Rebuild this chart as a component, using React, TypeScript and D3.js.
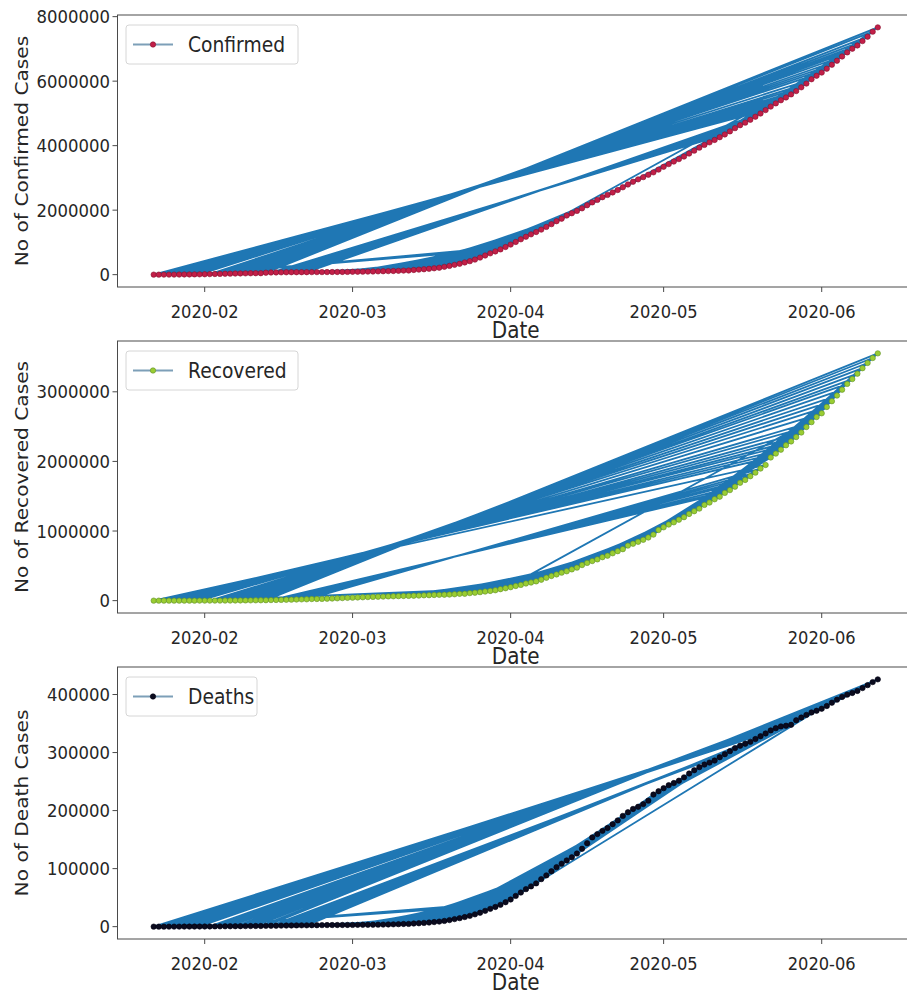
import React from "react";
import * as d3 from "d3";

// Daily global totals, 22 Jan 2020 – 12 Jun 2020 (one value per day).
const FIRST_DAY = "2020-01-22";

const confirmed: number[] = [
  555, 654, 941, 1434, 2118, 2927, 5578, 6166, 8234, 9927,
  12038, 16787, 19887, 23898, 27643, 30802, 34395, 37129, 40160, 42769,
  44811, 45229, 60381, 66909, 69052, 71235, 73270, 75152, 75652, 76212,
  76841, 78602, 78982, 79546, 80399, 81376, 82736, 84120, 86013,
  88371, 90309, 92844, 95124, 97886, 101800, 105836, 109835, 113582, 118582,
  125865, 128343, 145193, 156097, 167449, 181531, 197146, 214910, 242708, 272166,
  304524, 336953, 378235, 418045, 467653, 529591, 593291, 660706, 720117, 782365, 857487,
  932605, 1013466, 1095917, 1176060, 1249754, 1321481, 1396476, 1480202, 1565278, 1657526,
  1735650, 1834721, 1904838, 1976191, 2056054, 2152437, 2240190, 2317758, 2401378, 2472258,
  2549123, 2624074, 2708885, 2795729, 2881140, 2955033, 3023722, 3097229, 3172287, 3256846,
  3343777, 3427584, 3506729, 3583055, 3662691, 3755341, 3845718, 3938064, 4024009, 4101699,
  4177502, 4261747, 4347015, 4442163, 4542347, 4634068, 4713620, 4801943, 4897492, 4996472,
  5102424, 5210817, 5310362, 5407613, 5495061, 5589626, 5691790, 5808946, 5924275, 6059017, 6166946,
  6265852, 6386832, 6508635, 6632985, 6764918, 6891215, 7005760, 7106822, 7242235, 7379115,
  7534376, 7667950,
];

const recovered: number[] = [
  28, 30, 36, 39, 52, 61, 107, 126, 143, 222,
  284, 472, 623, 852, 1124, 1487, 2011, 2616, 3244, 3946,
  4683, 5150, 6295, 8058, 9395, 10865, 12583, 14352, 16121, 18177,
  18890, 22886, 23394, 25227, 27905, 30384, 33277, 36711, 39782,
  42716, 45602, 48228, 51170, 53796, 55865, 58358, 60694, 62494, 64404,
  67003, 68324, 70251, 72624, 76034, 78088, 80840, 83207, 84854, 87256,
  91499, 97704, 98334, 107990, 113787, 122150, 130915, 139415, 149082, 164566, 178034,
  193177, 210263, 225796, 246152, 260012, 276515, 300054, 328661, 353975, 376096,
  402110, 421722, 448655, 474261, 511019, 542107, 568343, 592319, 623903, 645738,
  680286, 710263, 739273, 790832, 817669, 845056, 873567, 906988, 948425, 1014753,
  1053327, 1093112, 1125236, 1162724, 1198832, 1245413, 1284741, 1322050, 1375624, 1408980,
  1456209, 1493414, 1547963, 1587893, 1637067, 1693197, 1733963, 1786875, 1838995, 1897466,
  1948739, 2056643, 2112185, 2168563, 2231738, 2286956, 2349993, 2415219, 2493908, 2564087, 2637208,
  2691469, 2782169, 2865445, 2946577, 3030215, 3113779, 3183044, 3260449, 3339051, 3414389,
  3485220, 3552316,
];

const deaths: number[] = [
  17, 18, 26, 42, 56, 82, 131, 133, 171, 213,
  259, 362, 426, 492, 564, 634, 719, 806, 906, 1013,
  1113, 1118, 1371, 1523, 1666, 1770, 1868, 2007, 2122, 2247,
  2251, 2458, 2469, 2629, 2708, 2770, 2814, 2872, 2941,
  2996, 3085, 3160, 3254, 3348, 3460, 3558, 3803, 3996, 4262,
  4615, 4720, 5404, 5819, 6440, 7126, 7905, 8733, 9867, 11299,
  12973, 14623, 16497, 18615, 21181, 23970, 27198, 30652, 33925, 37582, 42107,
  46809, 52983, 58787, 64606, 69374, 74565, 81865, 88338, 95455, 102525,
  108503, 114091, 119481, 125983, 134176, 143800, 153821, 159509, 165044, 169986,
  176583, 183066, 190858, 197159, 202846, 206544, 211167, 217153, 227638, 233388,
  238650, 243808, 247470, 251537, 257239, 263855, 269567, 274898, 279311, 282709,
  286330, 291942, 297197, 302418, 307666, 311781, 315185, 318481, 323285, 328115,
  332924, 338160, 342097, 345059, 346232, 347836, 355629, 360308, 364867, 369126, 372035,
  375543, 380249, 385947, 391136, 395779, 399798, 402697, 406193, 411143, 416201,
  421458, 426136,
];

const yTicksConfirmed = [0, 2000000, 4000000, 6000000, 8000000];
const yTicksRecovered = [0, 1000000, 2000000, 3000000];
const yTicksDeaths = [0, 100000, 200000, 300000, 400000];

const xTickMonths = ["2020-02-01", "2020-03-01", "2020-04-01", "2020-05-01", "2020-06-01"];

const LINE_COLOR = "#1f77b4";
const SPINE = "#4a4a4a";
const FONT = "'DejaVu Sans', sans-serif";

// Rows carry their date as a "DD-MM-YYYY" key; the table is ordered by that
// string, so the connecting line runs through the rows in that order.
const parseISO = d3.timeParse("%Y-%m-%d");
const keyFormat = d3.timeFormat("%d-%m-%Y");
const xTickFormat = d3.timeFormat("%Y-%m");

type Row = { date: Date; key: string; value: number };

function buildRows(values: number[]): Row[] {
  const start = parseISO(FIRST_DAY) as Date;
  const rows = values.map((value, i) => {
    const date = d3.timeDay.offset(start, i);
    return { date, key: keyFormat(date), value };
  });
  return rows.slice().sort((a, b) => (a.key < b.key ? -1 : a.key > b.key ? 1 : 0));
}

type PanelSpec = {
  top: number;
  bottom: number;
  values: number[];
  yTicks: number[];
  name: string;
  yLabel: string;
  markerFill: string;
  markerStroke: string;
  legendWidth: number;
};

const AX_LEFT = 117.5;
const AX_RIGHT = 914;

const panels: PanelSpec[] = [
  {
    top: 15, bottom: 287, values: confirmed, yTicks: yTicksConfirmed,
    name: "Confirmed", yLabel: "No of Confirmed Cases",
    markerFill: "#c21f48", markerStroke: "#86102e", legendWidth: 172,
  },
  {
    top: 341, bottom: 613, values: recovered, yTicks: yTicksRecovered,
    name: "Recovered", yLabel: "No of Recovered Cases",
    markerFill: "#9acd32", markerStroke: "#5f8f2a", legendWidth: 172,
  },
  {
    top: 667, bottom: 939, values: deaths, yTicks: yTicksDeaths,
    name: "Deaths", yLabel: "No of Death Cases",
    markerFill: "#0b0b1e", markerStroke: "#000010", legendWidth: 131,
  },
];

function StretchText(props: {
  x: number; y: number; sx?: number; sy?: number; rotate?: number;
  anchor?: string; size: number; dy?: string; children: React.ReactNode;
}) {
  const { x, y, sx = 1, sy = 1, rotate = 0, anchor = "start", size, dy, children } = props;
  return (
    <g transform={`translate(${x},${y}) rotate(${rotate}) scale(${sx},${sy})`}>
      <text x={0} y={0} dy={dy} textAnchor={anchor} fontFamily={FONT} fontSize={size} fill="#262626">
        {children}
      </text>
    </g>
  );
}

function Panel({ spec }: { spec: PanelSpec }) {
  const rows = buildRows(spec.values);
  const dates = rows.map((r) => r.date);
  const [d0, d1] = d3.extent(dates) as [Date, Date];
  const spanX = +d1 - +d0;
  const x = d3
    .scaleTime()
    .domain([new Date(+d0 - 0.05 * spanX), new Date(+d1 + 0.05 * spanX)])
    .range([AX_LEFT, AX_RIGHT]);

  const [v0, v1] = d3.extent(spec.values) as [number, number];
  const spanY = v1 - v0;
  const y = d3
    .scaleLinear()
    .domain([v0 - 0.05 * spanY, v1 + 0.05 * spanY])
    .range([spec.bottom, spec.top]);

  const line = d3
    .line<Row>()
    .x((d) => x(d.date))
    .y((d) => y(d.value));

  const clipId = `clip-${spec.name}`;
  const legendTop = spec.top + 10;
  const legendMid = legendTop + 19.5;
  const cy = (spec.top + spec.bottom) / 2;

  return (
    <g>
      <defs>
        <clipPath id={clipId}>
          <rect x={AX_LEFT} y={spec.top} width={AX_RIGHT - AX_LEFT} height={spec.bottom - spec.top} />
        </clipPath>
      </defs>

      <g clipPath={`url(#${clipId})`}>
        <path d={line(rows) ?? ""} fill="none" stroke={LINE_COLOR} strokeWidth={1.8} strokeLinejoin="round" />
        {rows.map((r, i) => (
          <circle
            key={i}
            cx={x(r.date)}
            cy={y(r.value)}
            r={2.7}
            fill={spec.markerFill}
            stroke={spec.markerStroke}
            strokeWidth={0.6}
          />
        ))}
      </g>

      {/* axes frame */}
      <rect
        x={AX_LEFT}
        y={spec.top}
        width={AX_RIGHT - AX_LEFT}
        height={spec.bottom - spec.top}
        fill="none"
        stroke={SPINE}
        strokeWidth={1}
      />

      {/* x ticks */}
      {xTickMonths.map((m) => {
        const d = parseISO(m) as Date;
        const tx = x(d);
        return (
          <g key={m}>
            <line x1={tx} x2={tx} y1={spec.bottom} y2={spec.bottom + 5} stroke={SPINE} strokeWidth={1} />
            <StretchText x={tx} y={spec.bottom + 31} sy={1.12} anchor="middle" size={16.3}>
              {xTickFormat(d)}
            </StretchText>
          </g>
        );
      })}

      {/* y ticks */}
      {spec.yTicks.map((t) => {
        const ty = y(t);
        return (
          <g key={t}>
            <line x1={AX_LEFT - 5} x2={AX_LEFT} y1={ty} y2={ty} stroke={SPINE} strokeWidth={1} />
            <StretchText x={AX_LEFT - 7.5} y={ty} sy={1.12} anchor="end" size={16.5} dy="0.36em">
              {String(t)}
            </StretchText>
          </g>
        );
      })}

      {/* axis titles */}
      <StretchText x={(AX_LEFT + AX_RIGHT) / 2} y={spec.bottom + 50.5} sy={1.16} anchor="middle" size={20}>
        Date
      </StretchText>
      <StretchText x={28} y={cy} rotate={-90} sx={1.12} anchor="middle" size={18}>
        {spec.yLabel}
      </StretchText>

      {/* legend */}
      <rect
        x={126}
        y={legendTop}
        width={spec.legendWidth}
        height={39}
        rx={3}
        fill="#ffffff"
        fillOpacity={0.8}
        stroke="#d6d6d6"
        strokeWidth={1}
      />
      <line x1={133} x2={173} y1={legendMid} y2={legendMid} stroke="#7d9fb8" strokeWidth={1.8} />
      <circle cx={153} cy={legendMid} r={2.7} fill={spec.markerFill} stroke={spec.markerStroke} strokeWidth={0.6} />
      <StretchText x={188} y={legendMid} sy={1.15} size={18.7} dy="0.36em">
        {spec.name}
      </StretchText>
    </g>
  );
}

export default function App() {
  return (
    <svg
      width={907}
      height={992}
      viewBox="0 0 907 992"
      style={{ position: "absolute", left: 0, top: 0, background: "#ffffff" }}
    >
      <rect x={0} y={0} width={907} height={992} fill="#ffffff" />
      {panels.map((p) => (
        <Panel key={p.name} spec={p} />
      ))}
    </svg>
  );
}
